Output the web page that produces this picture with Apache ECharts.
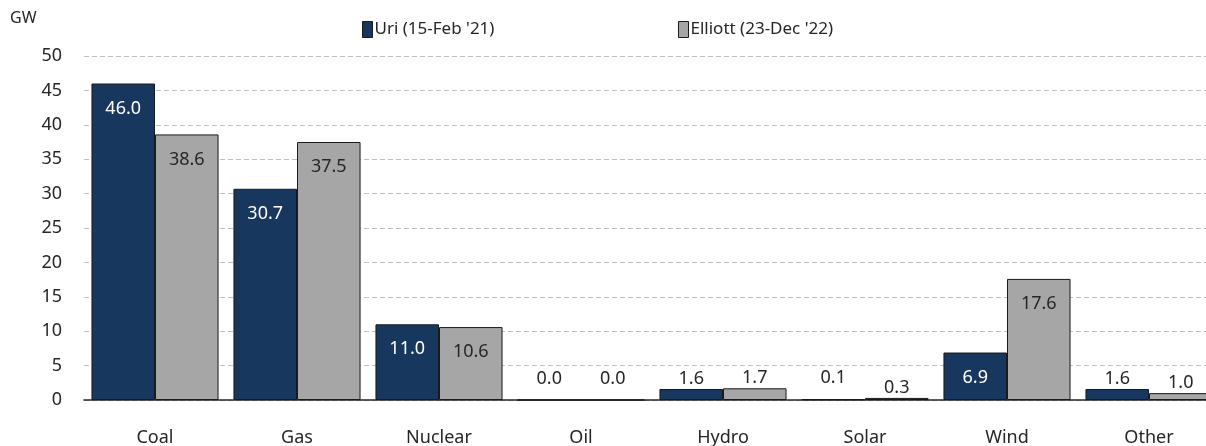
<!DOCTYPE html>
<html>
<head>
<meta charset="utf-8">
<script src="https://cdn.jsdelivr.net/npm/echarts@6/dist/echarts.min.js"></script>
<style>
  html, body { margin: 0; padding: 0; background: #fff; }
  #chart { width: 1206px; height: 446px; }
</style>
</head>
<body>
<div id="chart"></div>
<script>
const categories = ['Coal', 'Gas', 'Nuclear', 'Oil', 'Hydro', 'Solar', 'Wind', 'Other'];
const uri = [46.0, 30.7, 11.0, 0.0, 1.6, 0.1, 6.9, 1.6];
const elliott = [38.6, 37.5, 10.6, 0.0, 1.7, 0.3, 17.6, 1.0];
const yTicks = [0, 5, 10, 15, 20, 25, 30, 35, 40, 45, 50];

const FONT = '"Noto Sans", sans-serif';
const NAVY = '#17375e';
const GREY = '#a6a6a6';
const TEXT = '#262626';

// big bars get the label inside the top, small ones above it
function barData(values, insideColor) {
    return values.map(v => {
        const item = { value: v };
        if (v >= 5) {
            item.label = { position: 'insideTop', distance: 16, color: insideColor };
        } else {
            item.label = { position: 'top', distance: v < 0.2 ? 12 : 1, color: TEXT };
        }
        return item;
    });
}

const legendBase = {
    icon: 'rect', itemWidth: 10, itemHeight: 16, itemGap: 3, top: 21, padding: 0,
    itemStyle: { borderColor: '#1a1a1a', borderWidth: 1 },
    textStyle: { fontSize: 17, color: TEXT, fontFamily: FONT, padding: [0, 0, 0, -3] }
};

const chart = echarts.init(document.getElementById('chart'));
chart.setOption({
    animation: false,
    textStyle: { fontFamily: FONT },
    graphic: [{
        type: 'text', left: 10, top: 10,
        style: { text: 'GW', fontSize: 16, fontFamily: FONT, fill: TEXT }
    }],
    legend: [
        Object.assign({ data: ['Uri (15-Feb \'21)'], left: 362 }, legendBase),
        Object.assign({ data: ['Elliott (23-Dec \'22)'], left: 678 }, legendBase)
    ],
    grid: { left: 84, top: 56, bottom: 46, width: 1136, outerBoundsMode: 'none' },
    xAxis: {
        type: 'category',
        data: categories,
        axisTick: { show: false },
        axisLine: { lineStyle: { color: TEXT, width: 1.5 } },
        axisLabel: { fontSize: 18, color: TEXT, margin: 29, fontFamily: FONT }
    },
    yAxis: {
        type: 'value',
        min: yTicks[0],
        max: yTicks[yTicks.length - 1],
        interval: 5,
        axisLine: { show: false },
        axisTick: { show: false },
        axisLabel: { fontSize: 18, color: TEXT, margin: 22, fontFamily: FONT },
        splitLine: { lineStyle: { color: '#bfbfbf', type: [5, 3] } }
    },
    series: [
        {
            name: 'Uri (15-Feb \'21)',
            type: 'bar',
            data: barData(uri, '#ffffff'),
            barCategoryGap: '10.5%',
            barGap: '0%',
            itemStyle: { color: NAVY, borderColor: '#1a1a1a', borderWidth: 1 },
            label: { show: true, fontSize: 18, fontFamily: FONT, formatter: p => p.value.toFixed(1) }
        },
        {
            name: 'Elliott (23-Dec \'22)',
            type: 'bar',
            data: barData(elliott, TEXT),
            barCategoryGap: '10.5%',
            barGap: '0%',
            itemStyle: { color: GREY, borderColor: '#1a1a1a', borderWidth: 1 },
            label: { show: true, fontSize: 18, fontFamily: FONT, formatter: p => p.value.toFixed(1) }
        }
    ]
});
</script>
</body>
</html>
